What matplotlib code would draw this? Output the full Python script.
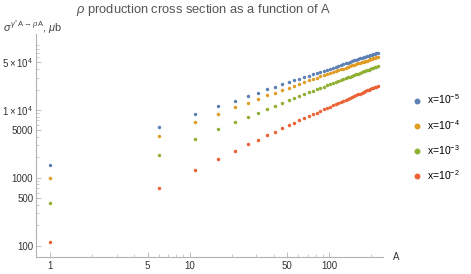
import matplotlib
matplotlib.use("Agg")
import matplotlib.pyplot as plt
from matplotlib.ticker import FixedLocator, FixedFormatter

plt.rcParams['font.family'] = ['Liberation Sans', 'DejaVu Sans']
plt.rcParams['mathtext.fontset'] = 'custom'
plt.rcParams['mathtext.rm'] = 'Liberation Sans'
plt.rcParams['mathtext.it'] = 'Liberation Sans:italic'
plt.rcParams['mathtext.bf'] = 'Liberation Sans:bold'

# mass number A
A = [1, 6, 11, 16, 21, 26, 31, 36, 41, 46, 51, 56, 61, 66, 71,
     76, 81, 86, 91, 96, 101, 106, 111, 116, 121, 126, 131, 136, 141, 146,
     151, 156, 161, 166, 171, 176, 181, 186, 191, 196, 201, 206, 211, 216, 221]

# cross sections in micro-barn
sigma_x5 = [1525, 5650, 8710, 11300, 13500, 15900, 17900, 20100, 21800, 23900,
            25600, 27300, 28900, 30600, 31900, 33450, 34950, 36430, 37870, 39300,
            40700, 42090, 43450, 44790, 46110, 47420, 48700, 49970, 51240, 52480,
            53720, 54930, 56140, 57340, 58530, 59700, 60870, 62030, 63170, 64320,
            65440, 66570, 67680, 68790, 69880]
sigma_x4 = [1000, 4160, 6640, 8790, 10900, 12800, 14600, 16400, 17900, 19600,
            21200, 22700, 24300, 25800, 27300, 28680, 29980, 31250, 32500, 33730,
            34940, 36140, 37320, 38480, 39630, 40750, 41880, 42980, 44060, 45150,
            46220, 47270, 48320, 49350, 50380, 51400, 52410, 53410, 54400, 55390,
            56380, 57350, 58310, 59270, 60220]
sigma_x3 = [419, 2180, 3720, 5180, 6560, 7850, 9100, 10300, 11500, 12600,
            13900, 15000, 16200, 17200, 18200, 19180, 20160, 21120, 22070, 23000,
            23930, 24850, 25740, 26660, 27540, 28420, 29290, 30150, 31010, 31870,
            32710, 33550, 34380, 35210, 36030, 36850, 37660, 38460, 39260, 40060,
            40850, 41640, 42420, 43200, 43970]
sigma_x2 = [113, 713, 1313, 1906, 2480, 3110, 3630, 4220, 4770, 5350,
            5930, 6480, 7090, 7670, 8130, 8640, 9150, 9660, 10160, 10660,
            11160, 11660, 12150, 12650, 13140, 13620, 14110, 14590, 15070, 15550,
            16030, 16510, 16980, 17460, 17930, 18400, 18870, 19340, 19810, 20270,
            20740, 21200, 21660, 22130, 22590]

series = [sigma_x5, sigma_x4, sigma_x3, sigma_x2]
labels = ['x=10$^{-5}$', 'x=10$^{-4}$', 'x=10$^{-3}$', 'x=10$^{-2}$']
colors = ['#5E81B5', '#E19C24', '#8FB032', '#EB6235']

xticks = [1, 5, 10, 50, 100]
xtick_labels = ['1', '5', '10', '50', '100']
yticks = [100, 500, 1000, 5000, 1e4, 5e4]
ytick_labels = ['100', '500', '1000', '5000', r'$1\times10^{4}$', r'$5\times10^{4}$']

fig = plt.figure(figsize=(4.71, 2.74), dpi=100)
ax = fig.add_axes([0.0764, 0.0631, 0.7368, 0.8129])

for ys, lab, c in zip(series, labels, colors):
    ax.plot(A, ys, 'o', ms=2.5, mew=0, color=c, label=lab)

ax.set_xscale('log')
ax.set_yscale('log')
ax.set_xlim(0.794, 242)
ax.set_ylim(68.9, 131500)

axis_col = '#b3b3b3'
for s in ['top', 'right']:
    ax.spines[s].set_visible(False)
for s in ['left', 'bottom']:
    ax.spines[s].set_color(axis_col)
    ax.spines[s].set_linewidth(0.8)

xminor = [m * d for d in (1, 10, 100) for m in range(2, 10) if m != 5 and m * d < 242]
yminor = [m * d for d in (100, 1000, 10000, 100000) for m in range(2, 10)
          if m != 5 and m * d < 131500]
ax.xaxis.set_major_locator(FixedLocator(xticks))
ax.xaxis.set_major_formatter(FixedFormatter(xtick_labels))
ax.xaxis.set_minor_locator(FixedLocator(xminor))
ax.xaxis.set_minor_formatter(FixedFormatter([''] * len(xminor)))
ax.yaxis.set_major_locator(FixedLocator(yticks))
ax.yaxis.set_major_formatter(FixedFormatter(ytick_labels))
ax.yaxis.set_minor_locator(FixedLocator(yminor))
ax.yaxis.set_minor_formatter(FixedFormatter([''] * len(yminor)))

ax.tick_params(which='major', direction='in', length=3.5, width=0.6, color=axis_col,
               labelsize=7, labelcolor='#333333')
ax.tick_params(which='minor', direction='in', length=2, width=0.5, color=axis_col)
ax.tick_params(axis='y', which='major', pad=2)
ax.tick_params(axis='x', which='major', pad=3)

fig.text(0.433, 0.962, r'$\rho$ production cross section as a function of A',
         ha='center', va='center', fontsize=9.3, color='#555555')
fig.text(0.006, 0.885, r'$\sigma^{\gamma^{*}\,\mathrm{A}\rightarrow\rho\mathrm{A}}$, $\mu$b',
         ha='left', va='baseline', fontsize=7.8, color='#444444')
fig.text(0.834, 0.063, 'A', ha='left', va='center', fontsize=7, color='#333333')

ax.legend(loc='center left', bbox_to_anchor=(1.07, 0.536), frameon=False,
          fontsize=7.5, handletextpad=0.45, labelspacing=1.1, markerscale=1.7,
          handlelength=1.0, borderaxespad=0)

fig.savefig('out.png', dpi=100)
